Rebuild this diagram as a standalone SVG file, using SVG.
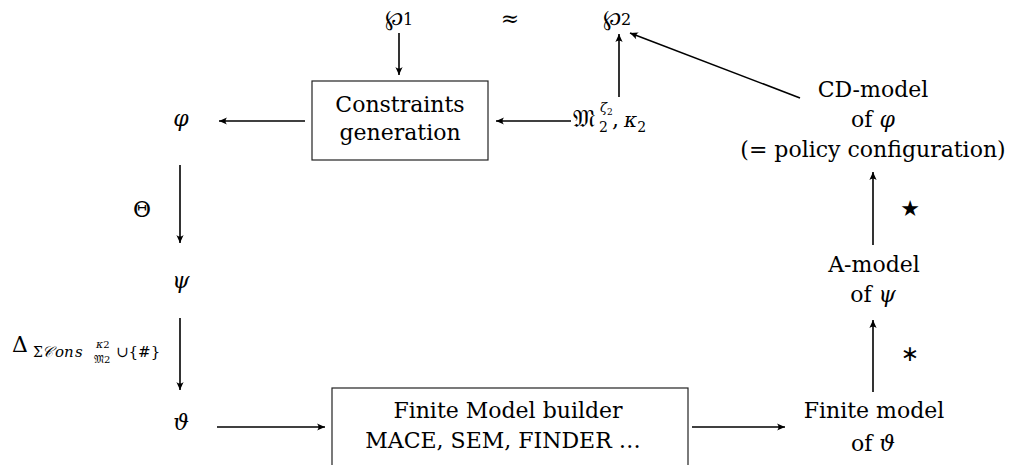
<svg xmlns="http://www.w3.org/2000/svg" width="1011" height="465" viewBox="0 0 1011 465" font-family="DejaVu Serif, serif">
<style>
  .t { font-size: 22px; fill: #000; }
  .m { font-style: italic; font-size: 22px; fill: #000; }
  .box { fill: #fff; stroke: #222; stroke-width: 1.2; }
  .edge { stroke: #000; stroke-width: 1.6; fill: none; marker-end: url(#ah); }
</style>
<defs>
  <marker id="ah" markerUnits="userSpaceOnUse" viewBox="-9 -5 10 10" refX="0" refY="0" markerWidth="10" markerHeight="10" orient="auto">
    <path d="M0,0 L-8,-3.6 Q-5,0 -8,3.6 Z" fill="#000"/>
  </marker>
</defs>
<rect width="1011" height="465" fill="#fff"/>

<g id="connectors">
  <line class="edge" x1="399" y1="33" x2="399" y2="75"/>
  <line class="edge" x1="305" y1="121" x2="219" y2="121"/>
  <line class="edge" x1="571" y1="121" x2="496" y2="121"/>
  <line class="edge" x1="619" y1="97" x2="619" y2="34"/>
  <line class="edge" x1="800" y1="98" x2="630" y2="33"/>
  <line class="edge" x1="180" y1="165" x2="180" y2="243"/>
  <line class="edge" x1="180" y1="318" x2="180" y2="390"/>
  <line class="edge" x1="217" y1="427" x2="325" y2="427"/>
  <line class="edge" x1="692" y1="427" x2="785" y2="427"/>
  <line class="edge" x1="873" y1="392" x2="873" y2="320"/>
  <line class="edge" x1="873" y1="245" x2="873" y2="172"/>
  <text class="t" x="142" y="217" text-anchor="middle">Θ</text>
  <text class="t" x="910" y="216" text-anchor="middle" font-family="DejaVu Sans, sans-serif" font-size="11">★</text>
  <text class="t" x="910" y="361" text-anchor="middle" font-family="DejaVu Sans, sans-serif" font-size="14">∗</text>
  <text class="t" x="12" y="352">Δ<tspan x="33" y="357" font-size="14">Σ</tspan><tspan x="42" font-style="italic" font-size="15">𝒞</tspan><tspan x="55" font-style="italic" font-size="15">o</tspan><tspan x="64" font-style="italic" font-size="15">n</tspan><tspan x="75" font-style="italic" font-size="15">s</tspan><tspan x="96" y="348" font-style="italic" font-size="11">κ</tspan><tspan font-size="10">2</tspan><tspan x="94" y="363" font-size="11">𝔐</tspan><tspan font-size="10">2</tspan><tspan x="116" y="357" font-size="15">∪{#}</tspan></text>
</g>

<g id="p1"><text x="399" y="25" text-anchor="middle" font-size="22">℘<tspan font-size="16">1</tspan></text></g>
<g id="approx"><text class="t" x="510" y="26" text-anchor="middle">≈</text></g>
<g id="p2"><text x="617" y="25" text-anchor="middle" font-size="22">℘<tspan font-size="16">2</tspan></text></g>

<g id="constraints">
  <rect class="box" x="312" y="81" width="176" height="79"/>
  <text class="t" x="400" y="112" text-anchor="middle">Constraints</text>
  <text class="t" x="400" y="140" text-anchor="middle">generation</text>
</g>

<g id="phi"><text class="m" x="181" y="126" text-anchor="middle">φ</text></g>
<g id="psi"><text class="m" x="181" y="288" text-anchor="middle">ψ</text></g>
<g id="theta"><text class="m" x="181" y="430" text-anchor="middle">ϑ</text></g>

<g id="m2">
  <text class="t" x="573" y="127"><tspan font-size="24">𝔐</tspan><tspan x="599" y="132" font-size="14">2</tspan><tspan x="600" y="112" font-style="italic" font-size="13">ζ</tspan><tspan y="115" font-size="9">2</tspan><tspan x="612" y="127">,</tspan><tspan x="624" font-style="italic" font-size="20">κ</tspan><tspan y="132" font-size="14">2</tspan></text>
</g>

<g id="builder">
  <rect class="box" x="332" y="388" width="356" height="90"/>
  <text class="t" x="508" y="418" text-anchor="middle">Finite Model builder</text>
  <text class="t" x="503" y="448" text-anchor="middle" font-size="23">MACE, SEM, FINDER …</text>
</g>

<g id="finite">
  <text class="t" x="874" y="418" text-anchor="middle">Finite model</text>
  <text class="t" x="873" y="451" text-anchor="middle">of <tspan font-style="italic">ϑ</tspan></text>
</g>

<g id="amodel">
  <text class="t" x="874" y="272" text-anchor="middle">A-model</text>
  <text class="t" x="873" y="302" text-anchor="middle">of <tspan font-style="italic">ψ</tspan></text>
</g>

<g id="cdmodel">
  <text class="t" x="873" y="97" text-anchor="middle">CD-model</text>
  <text class="t" x="873" y="127" text-anchor="middle">of <tspan font-style="italic">φ</tspan></text>
  <text class="t" x="873" y="157" text-anchor="middle">(= policy configuration)</text>
</g>
</svg>
